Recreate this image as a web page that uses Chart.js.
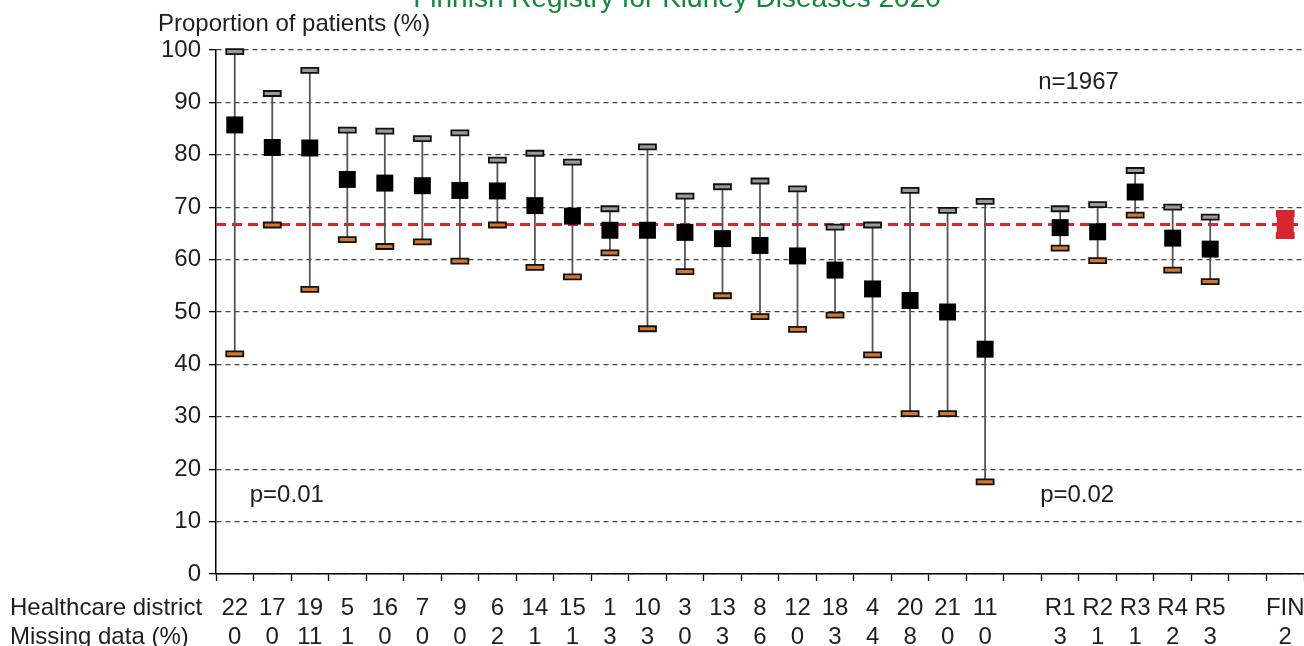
<!DOCTYPE html>
<html>
<head>
<meta charset="utf-8">
<script src="https://cdn.jsdelivr.net/npm/chart.js@4.4.1/dist/chart.umd.min.js"></script>
<style>
  html, body { margin: 0; padding: 0; background: #ffffff; }
  canvas { display: block; }
</style>
</head>
<body>
<canvas id="chart" width="1304" height="646"></canvas>
<script>
// Healthcare districts, university-hospital regions and the national value (FIN)
const districts = ['22','17','19','5','16','7','9','6','14','15','1','10','3','13','8','12','18','4','20','21','11','','R1','R2','R3','R4','R5','','FIN'];
const missingData = ['0','0','11','1','0','0','0','2','1','1','3','3','0','3','6','0','3','4','8','0','0','','3','1','1','2','3','','2'];

// Proportion of patients (%) with 95% confidence limits
const proportion = [85.7,81.4,81.3,75.3,74.6,74.1,73.2,73.1,70.3,68.3,65.6,65.6,65.2,64.0,62.7,60.7,58.0,54.4,52.2,50.0,42.9,null,66.1,65.3,72.9,64.1,62.0,null,66.7];
const upperLimit = [99.7,91.7,96.1,84.7,84.5,83.1,84.2,79.0,80.3,78.6,69.7,81.5,72.1,73.9,75.0,73.5,66.2,66.6,73.2,69.4,71.1,null,69.7,70.5,77.0,70.0,68.1,null,68.8];
const lowerLimit = [42.0,66.6,54.3,63.8,62.5,63.4,59.7,66.6,58.5,56.7,61.3,46.8,57.7,53.1,49.1,46.7,49.4,41.8,30.6,30.6,17.6,null,62.2,59.8,68.5,58.0,55.8,null,64.6];

const yTicks = [0,10,20,30,40,50,60,70,80,90,100];
const nationalValue = 66.7;

const FONT = '"Liberation Sans", Arial, Helvetica, sans-serif';
const RED = '#d8262e';
const isFin = i => districts[i] === 'FIN';

// National reference line and confidence-interval whiskers
const whiskers = {
  id: 'whiskers',
  beforeDatasetsDraw(chart) {
    const { ctx, chartArea, scales: { x, y } } = chart;
    ctx.save();
    // dashed national line
    ctx.strokeStyle = RED;
    ctx.lineWidth = 3.2;
    ctx.setLineDash([10, 6]);
    const yn = y.getPixelForValue(nationalValue);
    ctx.beginPath();
    ctx.moveTo(chartArea.left, yn);
    ctx.lineTo(chartArea.right, yn);
    ctx.stroke();
    ctx.setLineDash([]);

    proportion.forEach((v, i) => {
      if (v === null) return;
      const px = x.getPixelForValue(i);
      const yu = y.getPixelForValue(upperLimit[i]);
      const yl = y.getPixelForValue(lowerLimit[i]);
      const fin = isFin(i);
      ctx.strokeStyle = fin ? RED : '#555555';
      ctx.lineWidth = 1.8;
      ctx.beginPath();
      ctx.moveTo(px, yu);
      ctx.lineTo(px, yl);
      ctx.stroke();
      const capW = 17, capH = 5;
      [[yu, fin ? RED : '#9a9a9a'], [yl, fin ? RED : '#d2772c']].forEach(([cy, fill]) => {
        ctx.fillStyle = fill;
        ctx.strokeStyle = fin ? RED : '#111111';
        ctx.lineWidth = 1.8;
        ctx.beginPath();
        ctx.rect(px - capW / 2, cy - capH / 2, capW, capH);
        ctx.fill();
        ctx.stroke();
      });
    });
    ctx.restore();
  }
};

// Titles, row headers and annotations
const texts = {
  id: 'texts',
  afterDraw(chart) {
    const { ctx, scales: { x, y } } = chart;
    ctx.save();
    ctx.textBaseline = 'alphabetic';
    ctx.textAlign = 'center';
    ctx.fillStyle = '#13883b';
    ctx.font = '28px ' + FONT;
    ctx.fillText('Finnish Registry for Kidney Diseases 2020', 677, 7);

    ctx.fillStyle = '#1e1e1e';
    ctx.font = '24px ' + FONT;
    ctx.textAlign = 'left';
    ctx.textBaseline = 'middle';
    ctx.fillText('Proportion of patients (%)', 158, 24);

    ctx.fillText('n=1967', x.getPixelForValue(22) - 22, y.getPixelForValue(93.9));
    ctx.fillText('p=0.01', x.getPixelForValue(0) + 15, y.getPixelForValue(15.1));
    ctx.fillText('p=0.02', x.getPixelForValue(22) - 20, y.getPixelForValue(15.1));

    ctx.fillText('Healthcare district', 10, x.top + 34);
    ctx.fillText('Missing data (%)', 10, x.top + 63);
    ctx.restore();
  }
};

new Chart(document.getElementById('chart'), {
  type: 'line',
  data: {
    labels: districts.map((d, i) => [d, missingData[i]]),
    datasets: [{
      data: proportion,
      showLine: false,
      pointStyle: 'rect',
      pointRadius: 12,
      pointBorderWidth: 0,
      pointBackgroundColor: proportion.map((v, i) => isFin(i) ? RED : '#000000'),
      pointBorderColor: proportion.map((v, i) => isFin(i) ? RED : '#000000')
    }]
  },
  options: {
    responsive: false,
    animation: false,
    events: [],
    layout: { autoPadding: false, padding: { top: 50, left: 0, right: 0, bottom: 0 } },
    plugins: {
      legend: { display: false },
      tooltip: { enabled: false },
      title: { display: false }
    },
    scales: {
      x: {
        type: 'category',
        offset: true,
        afterFit(scale) {
          scale.height = 72;
          scale.paddingLeft = 0;
          scale.paddingRight = 0;
        },
        grid: {
          display: true,
          offset: true,
          drawOnChartArea: false,
          drawTicks: true,
          tickLength: 7,
          tickColor: '#000000',
          tickWidth: 1.3
        },
        border: { display: true, color: '#000000', width: 1.5 },
        ticks: {
          autoSkip: false,
          maxRotation: 0,
          minRotation: 0,
          padding: 13,
          color: '#1e1e1e',
          font: { family: FONT, size: 24, lineHeight: 1.21 }
        }
      },
      y: {
        min: 0,
        max: 100,
        afterFit(scale) {
          scale.width = 216;
          scale.paddingTop = 0;
          scale.paddingBottom = 0;
        },
        afterBuildTicks(scale) { scale.ticks = yTicks.map(v => ({ value: v })); },
        grid: {
          color: '#444444',
          lineWidth: 1.3,
          drawTicks: true,
          tickLength: 7,
          tickColor: '#000000',
          tickWidth: 1.3
        },
        border: { display: true, color: '#000000', width: 1.5, dash: [5, 4] },
        ticks: {
          padding: 8,
          color: '#1e1e1e',
          font: { family: FONT, size: 24 }
        }
      }
    }
  },
  plugins: [whiskers, texts]
});
</script>
</body>
</html>
